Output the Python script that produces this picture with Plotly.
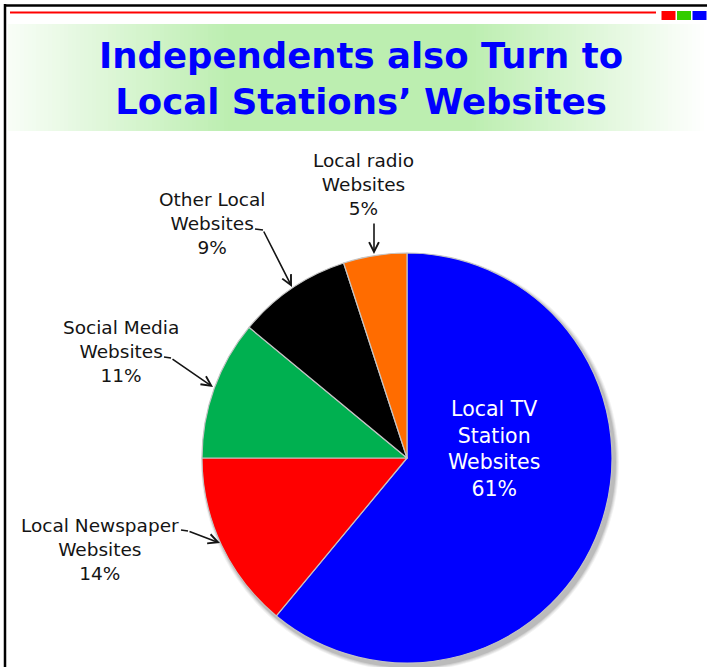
import plotly.graph_objects as go

# ---- data ----
categories = ["Local TV Station Websites", "Local Newspaper Websites",
              "Social Media Websites", "Other Local Websites", "Local radio Websites"]
shares = [61, 14, 11, 9, 5]
slice_colors = ["#0000ff", "#ff0000", "#00b050", "#000000", "#ff6c00"]
label_lines = [["Local TV", "Station", "Websites"],
               ["Local Newspaper", "Websites"],
               ["Social Media", "Websites"],
               ["Other Local", "Websites"],
               ["Local radio", "Websites"]]
title_lines = ["Independents also Turn to", "Local Stations\u2019 Websites"]

W, H = 707, 667
FONT = "DejaVu Sans"


def px(x):
    return x / W


def py(y):
    return 1 - y / H


# pie geometry (pixels)
CX, CY, R = 407, 458, 205

fig = go.Figure()
fig.add_trace(go.Pie(
    labels=categories, values=shares, sort=False, direction="clockwise", rotation=0,
    marker=dict(colors=slice_colors, line=dict(color="#c4c4c4", width=1.2)),
    textinfo="none", hoverinfo="label+percent", showlegend=False,
    domain=dict(x=[px(CX - R), px(CX + R)], y=[py(CY + R), py(CY - R)]),
))

shapes = []
# title band: horizontal green gradient built from thin strips
peak = (188, 238, 176)


def band_t(x):
    if x < 230:
        return 0.10 + 0.90 * (x - 8) / (230 - 8)
    if x < 470:
        return 1.0
    return max(0.0, 1.0 - (x - 470) / (W - 470))


step = 4
x = 8
while x < W:
    t = band_t(x + step / 2)
    col = tuple(round(255 * (1 - t) + c * t) for c in peak)
    shapes.append(dict(type="rect", xref="paper", yref="paper",
                       x0=px(x), x1=px(min(x + step + 0.5, W)), y0=py(131), y1=py(24),
                       fillcolor="rgb(%d,%d,%d)" % col, line=dict(width=0), layer="below"))
    x += step

# soft drop shadow under the pie
for i, a in enumerate([0.05, 0.06, 0.08, 0.10]):
    rr = R + 4 - i
    shapes.append(dict(type="circle", xref="paper", yref="paper",
                       x0=px(CX + 3 - rr), x1=px(CX + 3 + rr),
                       y0=py(CY + 4 + rr), y1=py(CY + 4 - rr),
                       fillcolor="rgba(0,0,0,%.2f)" % a, line=dict(width=0), layer="below"))

# frame lines and header decoration
shapes.append(dict(type="line", xref="paper", yref="paper", x0=px(5), x1=px(5), y0=0, y1=py(4),
                   line=dict(color="black", width=2.5)))
shapes.append(dict(type="line", xref="paper", yref="paper", x0=px(4), x1=1, y0=py(5.5), y1=py(5.5),
                   line=dict(color="black", width=2.5)))
shapes.append(dict(type="line", xref="paper", yref="paper", x0=px(10), x1=px(656), y0=py(12.5), y1=py(12.5),
                   line=dict(color="#ff0000", width=1.8)))
for x0, c in [(661.5, "#ff0000"), (677, "#33cc00"), (692.5, "#0000ff")]:
    shapes.append(dict(type="rect", xref="paper", yref="paper", x0=px(x0), x1=px(x0 + 14),
                       y0=py(20), y1=py(11), fillcolor=c, line=dict(width=0)))

annotations = []
# title
annotations.append(dict(xref="paper", yref="paper", x=px(361), y=py(78), xanchor="center", yanchor="middle",
                        text="<br>".join(title_lines), showarrow=False,
                        font=dict(family=FONT, size=35.5, color="#0000ff", weight="bold")))

# slice labels
inside = "<br>".join(label_lines[0] + ["%d%%" % shares[0]])
annotations.append(dict(xref="paper", yref="paper", x=px(494), y=py(449), xanchor="center", yanchor="middle",
                        text=inside, showarrow=False, font=dict(family=FONT, size=20.5, color="white")))

outside_pos = {1: (100, 549), 2: (121, 351), 3: (212, 223), 4: (363, 184)}
for i, (lx, ly) in outside_pos.items():
    annotations.append(dict(xref="paper", yref="paper", x=px(lx), y=py(ly), xanchor="center", yanchor="middle",
                            text="<br>".join(label_lines[i] + ["%d%%" % shares[i]]), showarrow=False,
                            font=dict(family=FONT, size=18.5, color="#141414")))

# leader lines: short kick after the text, then an arrow to the slice
leaders = [
    # (kick start, bend, head)
    ((181, 530), (188, 531), (220, 543)),
    ((164, 357), (171, 358), (213, 387)),
    ((255, 229), (263, 230), (292, 287)),
    (None, (374, 222), (374, 254)),
]
for start, bend, head in leaders:
    if start is not None:
        shapes.append(dict(type="line", xref="paper", yref="paper",
                           x0=px(start[0]), y0=py(start[1]), x1=px(bend[0]), y1=py(bend[1]),
                           line=dict(color="#141414", width=1.6)))
    annotations.append(dict(xref="paper", yref="paper", x=px(head[0]), y=py(head[1]),
                            ax=bend[0] - head[0], ay=bend[1] - head[1], text="", showarrow=True,
                            arrowhead=5, arrowsize=1.2, arrowwidth=1.6, arrowcolor="#141414",
                            standoff=0, startstandoff=0))

fig.update_layout(
    width=W, height=H, margin=dict(l=0, r=0, t=0, b=0),
    paper_bgcolor="white", plot_bgcolor="white",
    shapes=shapes, annotations=annotations, showlegend=False,
)

fig.write_html("out.html")
